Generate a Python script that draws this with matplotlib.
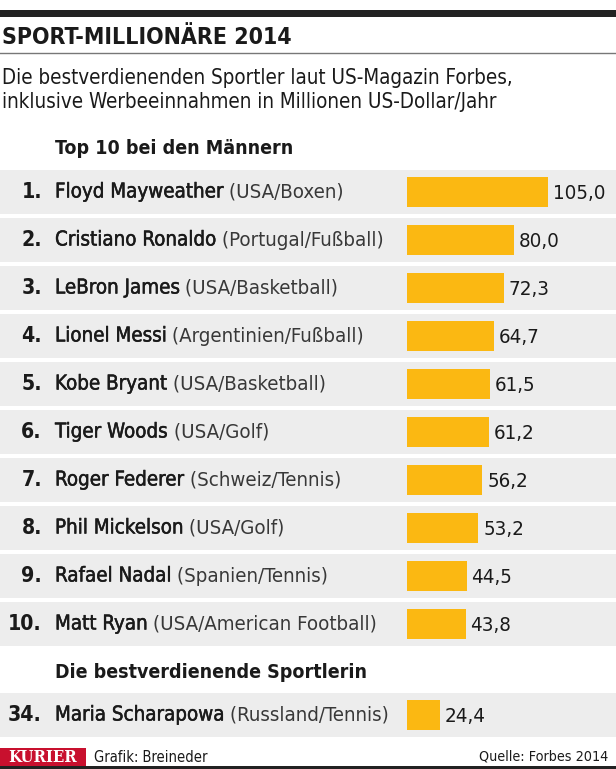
import matplotlib
matplotlib.use('Agg')
import matplotlib.pyplot as plt
import matplotlib.patheffects as pe
from matplotlib import font_manager as fm
from matplotlib.patches import Rectangle

# ---------------------------------------------------------
# data
# ---------------------------------------------------------
ranks = ['1.', '2.', '3.', '4.', '5.', '6.', '7.', '8.', '9.', '10.']
names = ['Floyd Mayweather', 'Cristiano Ronaldo', 'LeBron James', 'Lionel Messi',
         'Kobe Bryant', 'Tiger Woods', 'Roger Federer', 'Phil Mickelson',
         'Rafael Nadal', 'Matt Ryan']
details = ['(USA/Boxen)', '(Portugal/Fußball)', '(USA/Basketball)',
           '(Argentinien/Fußball)', '(USA/Basketball)', '(USA/Golf)',
           '(Schweiz/Tennis)', '(USA/Golf)', '(Spanien/Tennis)',
           '(USA/American Football)']
earnings = [105.0, 80.0, 72.3, 64.7, 61.5, 61.2, 56.2, 53.2, 44.5, 43.8]

woman_rank = '34.'
woman_name = 'Maria Scharapowa'
woman_detail = '(Russland/Tennis)'
woman_earnings = 24.4

title = 'SPORT-MILLIONÄRE 2014'
subtitle = ['Die bestverdienenden Sportler laut US-Magazin Forbes,',
            'inklusive Werbeeinnahmen in Millionen US-Dollar/Jahr']
head_men = 'Top 10 bei den Männern'
head_women = 'Die bestverdienende Sportlerin'
credit = 'Grafik: Breineder'
source = 'Quelle: Forbes 2014'

# ---------------------------------------------------------
# fonts -- pick a narrow family if one is there
# ---------------------------------------------------------
fam = 'DejaVu Sans'
stretch = 'normal'
for cand, st in [('Liberation Sans Narrow', 'normal'), ('DejaVu Sans', 'condensed')]:
    try:
        path = fm.findfont(fm.FontProperties(family=cand, stretch=st), fallback_to_default=False)
        if cand != 'DejaVu Sans' or 'Condensed' in path:
            fam, stretch = cand, st
            break
    except Exception:
        pass
plt.rcParams['font.family'] = [fam, 'DejaVu Sans']
plt.rcParams['font.stretch'] = stretch

GOLD = '#fbb812'
BAND = '#ededed'
INK = '#1a1a1a'
SOFT = '#383838'
FS = 14.7   # row text size
medium = [pe.withStroke(linewidth=0.35, foreground=INK)]  # fake a medium weight

W, H = 616, 769
fig = plt.figure(figsize=(W / 100, H / 100), dpi=100)
ax = fig.add_axes([0, 0, 1, 1])
ax.set_xlim(0, W)
ax.set_ylim(H, 0)
ax.axis('off')

# bar axes: x in millions, starts at px 407, 1.343 px per million
px_per = 1.343
bx0 = 407
bax = fig.add_axes([bx0 / W, 0, (W - bx0) / W, 1])
bax.set_xlim(0, (W - bx0) / px_per)
bax.set_ylim(H, 0)
bax.axis('off')

# header
ax.add_patch(Rectangle((0, 10), W, 7, color='#222222', lw=0))
ax.text(2, 37, title, fontsize=16.6, fontweight='bold', color=INK, va='center', ha='left')
ax.plot([0, W], [53, 53], color='#777777', lw=1)
ax.text(2, 78, subtitle[0], fontsize=14.8, color=INK, va='center')
ax.text(2, 102, subtitle[1], fontsize=14.8, color=INK, va='center')
ax.text(55, 148, head_men, fontsize=14, fontweight='bold', color=INK, va='center')


def row(yc, rk, nm, dt, val):
    ax.add_patch(Rectangle((0, yc - 22), W, 44, color=BAND, lw=0))
    ax.text(42, yc, rk, fontsize=FS + 0.5, fontweight='bold', color=INK, ha='right', va='center')
    t = ax.text(55, yc, nm, fontsize=FS, color=INK, va='center', path_effects=medium)
    ax.annotate(' ' + dt, xy=(1, 0), xycoords=t, fontsize=FS, color=SOFT,
                va='bottom', ha='left')
    bax.barh(yc, val, height=30, left=0, color=GOLD, lw=0)
    bax.text(val + 3.5, yc + 1.5, f'{val:.1f}'.replace('.', ','), fontsize=FS,
             color=INK, va='center', ha='left')


for i in range(len(names)):
    row(192 + 48 * i, ranks[i], names[i], details[i], earnings[i])

ax.text(55, 673, head_women, fontsize=14, fontweight='bold', color=INK, va='center')
row(715, woman_rank, woman_name, woman_detail, woman_earnings)

# footer
ax.add_patch(Rectangle((0, 748), 86, 18, color='#c8102e', lw=0))
ax.text(43, 757.5, 'KURIER', fontsize=12, fontweight='bold', family='DejaVu Serif',
        color='white', ha='center', va='center')
ax.text(94, 757, credit, fontsize=10.5, color=INK, va='center')
ax.text(608, 757, source, fontsize=10.3, color=INK, va='center', ha='right')
ax.add_patch(Rectangle((0, 766), W, 3, color='#222222', lw=0))

fig.savefig('out.png', dpi=100)
